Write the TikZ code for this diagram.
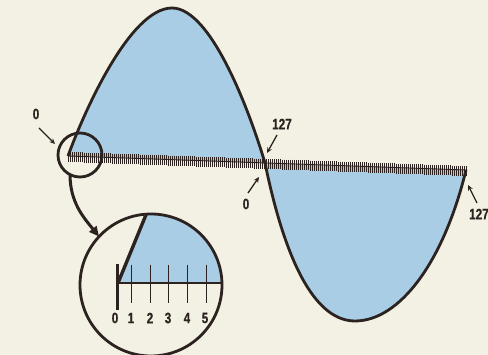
\documentclass[tikz,border=0pt]{standalone}
\usepackage{fontspec}
\setmainfont{Liberation Sans}
\newfontfamily\lblfont[BoldFeatures={FakeBold=0.6}]{Liberation Sans}
\usetikzlibrary{arrows.meta}
\definecolor{paper}{RGB}{243,241,227}
\definecolor{wblue}{RGB}{168,205,229}
\definecolor{ink}{RGB}{44,34,32}
\tikzset{
  wave/.style={line width=2.8pt, draw=ink, line join=round},
  lbl/.style={font=\lblfont\bfseries\fontsize{15}{16}\selectfont, text=ink, inner sep=0pt},
  lblarrow/.style={draw=ink, line width=1.3pt, -{Stealth[length=5.5pt,width=5pt]}},
  tickmark/.style={draw=ink, line width=0.8pt},
  ring/.style={circle, draw=ink, line width=2.8pt, inner sep=0pt, outer sep=0pt}
}
\newcommand{\cond}[1]{\scalebox{0.78}[1]{#1}}
\begin{document}
\begin{tikzpicture}[x=1pt,y=-1pt]
\useasboundingbox (0,0) rectangle (488,355);
\fill[paper] (0,0) rectangle (488,355);

% blue lobes
\fill[wblue] (68,156) .. controls (84,112) and (130,8) .. (172,8)
  .. controls (212,8) and (251,116) .. (265,163) -- cycle;
\fill[wblue] (265,163) .. controls (287,270) and (318,321) .. (355,321)
  .. controls (400,321) and (444,261) .. (466,170) -- cycle;

% axis with ticks
\draw[draw=ink, line width=0.9pt] (68,156) -- (466,170);
\foreach \i in {0,...,199} {
  \pgfmathsetmacro{\xx}{68+2*\i}
  \pgfmathsetmacro{\yy}{156+0.0352*2*\i}
  \draw[tickmark] (\xx,\yy-4) -- (\xx,\yy+6);
}

% wave outline
\draw[wave] (68,156) .. controls (84,112) and (130,8) .. (172,8)
  .. controls (212,8) and (251,116) .. (265,163)
  .. controls (287,270) and (318,321) .. (355,321)
  .. controls (400,321) and (444,261) .. (466,170);

% small lens
\node[ring, minimum size=44pt] (lens) at (80,155) {};

% big magnifier
\begin{scope}
  \clip (151,285) circle (70pt);
  \fill[wblue] (118,283) -- (152,200) -- (240,200) -- (240,283) -- cycle;
  \draw[draw=ink, line width=1.2pt] (117,283) -- (240,283);
  \draw[draw=ink, line width=3.4pt, line cap=round] (118,283) -- (150,205);
\end{scope}
\draw[draw=ink, line width=3pt] (117,264) -- (117,310);
\foreach \xx in {131,150,168,187,206} {
  \draw[draw=ink, line width=1pt] (\xx,265) -- (\xx,303);
}
\foreach \xx/\t in {115/0,131/1,150/2,168/3,187/4,205/5} {
  \node[lbl] (d\t) at (\xx,318) {\cond{\t}};
}
\node[ring, minimum size=142pt] (mag) at (151,285) {};

% curved arrow from lens to magnifier
\draw[draw=ink, line width=3pt, -{Triangle[length=10pt,width=9pt]}]
  (lens.243) .. controls ([yshift=-28pt]lens.243) and (84,218) .. (mag.137);

% labels
\node[lbl] (l0) at (36,114) {\cond{0}};
\coordinate (l0a) at (39,128); \coordinate (l0b) at (55,144);
\draw[lblarrow] (l0a) -- (l0b);

\node[lbl] (c127) at (282,124) {\cond{127}};
\coordinate (c127a) at (277,135); \coordinate (c127b) at (267,153);
\draw[lblarrow] (c127a) -- (c127b);

\node[lbl] (c0) at (246,204) {\cond{0}};
\coordinate (c0a) at (248,193); \coordinate (c0b) at (259,177);
\draw[lblarrow] (c0a) -- (c0b);

\node[lbl] (r127) at (479,214) {\cond{127}};
\coordinate (r127a) at (477,203); \coordinate (r127b) at (468,185);
\draw[lblarrow] (r127a) -- (r127b);
\end{tikzpicture}
\end{document}
